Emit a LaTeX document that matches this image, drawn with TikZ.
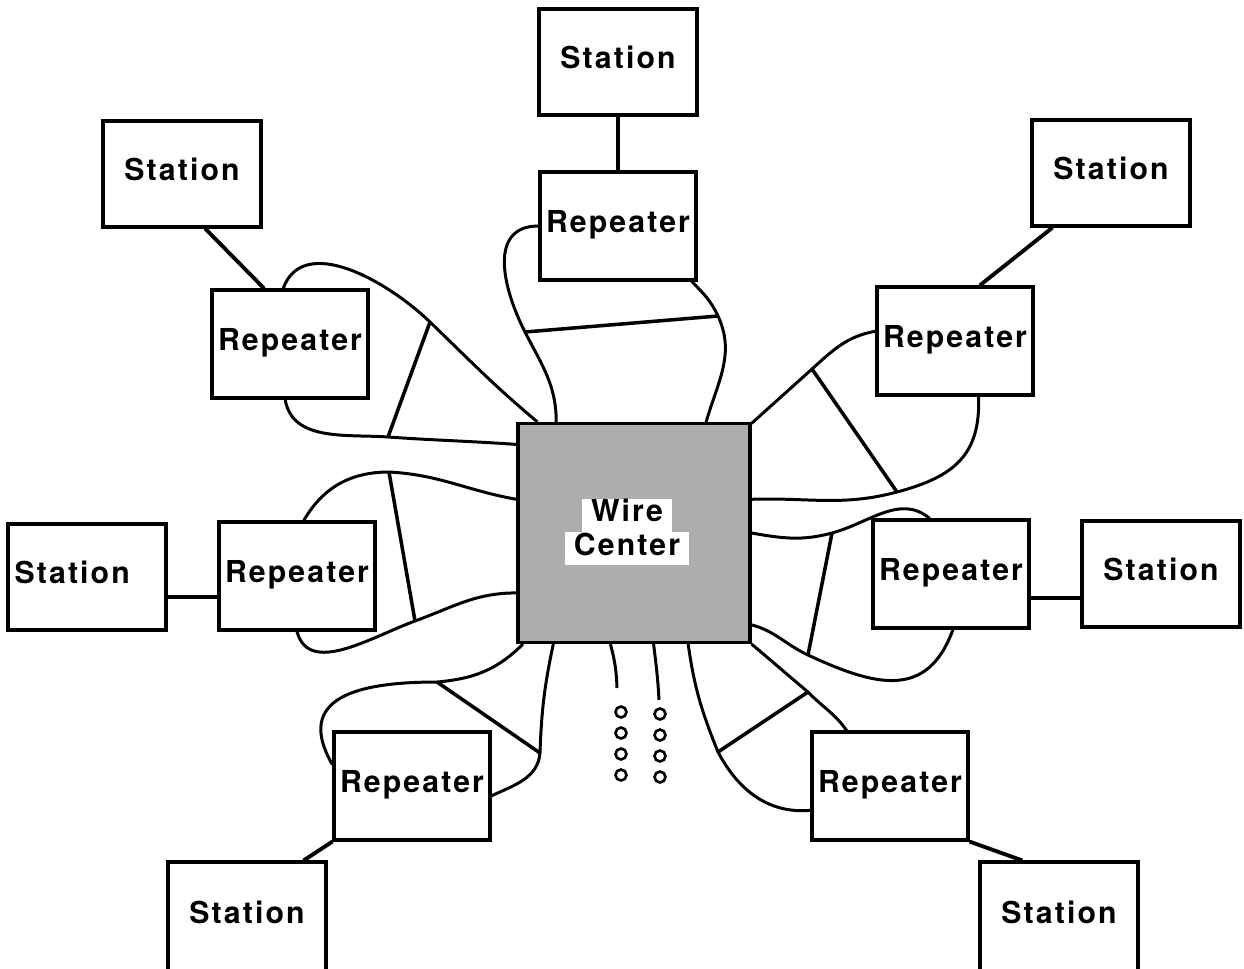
\documentclass[tikz,border=0pt]{standalone}
\usepackage{fontspec}
\newfontfamily\netfont{TeX Gyre Heros}[LetterSpace=7.0]
\usetikzlibrary{positioning,backgrounds}

\begin{document}
\begin{tikzpicture}[x=0.02cm, y=0.02cm,
  station/.style={rectangle, draw=black, fill=white, line width=1.8pt, inner sep=0pt,
                  minimum width=3.16cm, minimum height=2.12cm,
                  text height=7.7pt, text depth=0pt,
                  font=\netfont\bfseries\fontsize{17.2}{19}\selectfont},
  repeater/.style={station, minimum width=3.12cm, minimum height=2.16cm},
  hub/.style={rectangle, draw=black, fill=black!32, line width=1.8pt,
              minimum width=4.64cm, minimum height=4.38cm},
  hublabel/.style={inner sep=0pt, align=center,
                   font=\netfont\bfseries\fontsize{17.2}{19}\selectfont},
  cable/.style={line width=1.7pt},
  bar/.style={line width=2pt},
  link/.style={line width=2.2pt},
  ring/.style={line width=1.5pt},
]
\useasboundingbox (0,0) rectangle (1244,-968);
\setlength{\fboxsep}{0pt}

\node[hub] (wc) at (634,-533) {};
\node[hublabel] (wcl) at (627,-532)
  {\colorbox{white}{\strut\hspace{5pt}Wire\hspace{5pt}}\\
   \colorbox{white}{\strut\hspace{5pt}Center\hspace{5pt}}};

\node[station]  (stn)  at (618,-62)  {Station};
\node[repeater] (rpn)  at (618,-226) {Repeater};
\node[station]  (stnw) at (182,-174) {Station};
\node[repeater] (rpnw) at (290,-344) {Repeater};
\node[station]  (stne) at (1111,-173) {Station};
\node[repeater] (rpne) at (955,-341) {Repeater};
\node[station, text width=2.9cm, align=left] (stw) at (87,-577) {Station};
\node[repeater] (rpw)  at (297,-576) {Repeater};
\node[repeater] (rpe)  at (951,-574) {Repeater};
\node[station]  (ste)  at (1161,-574) {Station};
\node[repeater] (rpsw) at (412,-786) {Repeater};
\node[station, minimum height=2.2cm] (stsw) at (247,-917) {Station};
\node[repeater] (rpse) at (890,-786) {Repeater};
\node[station, minimum height=2.2cm] (stse) at (1059,-917) {Station};

\coordinate (xn1)  at (525,-332);
\coordinate (xn2)  at (718,-316);
\coordinate (xnw1) at (430,-322);
\coordinate (xnw2) at (388,-437);
\coordinate (xne1) at (812,-369);
\coordinate (xne2) at (897,-492);
\coordinate (xw1)  at (389,-472);
\coordinate (xw2)  at (415,-621);
\coordinate (xe1)  at (832,-533);
\coordinate (xe2)  at (808,-655);
\coordinate (xsw1) at (437,-682);
\coordinate (xsw2) at (540,-753);
\coordinate (xse1) at (808,-692);
\coordinate (xse2) at (718,-752);
\coordinate (d1)   at (617,-688);
\coordinate (d2)   at (659,-700);

\begin{scope}[on background layer]
  \draw[cable] (rpn.west) to[out=180,in=117,looseness=1.2] (xn1) to[out=-63,in=90] (wc.125);
  \draw[cable] (rpn.-37) to[out=-45,in=115] (xn2) to[out=-65,in=74] (wc.57);
  \draw[cable] (rpnw.97) to[out=70,in=136] (xnw1) to[out=-44,in=140] (wc.131);
  \draw[cable] (rpnw.-95) to[out=-80,in=176] (xnw2) to[out=-4,in=176] (wc.143);
  \draw[cable] (rpne.173) to[out=190,in=42] (xne1) to[out=222,in=42] (wc.43);
  \draw[cable] (rpne.-67) to[out=-88,in=15,looseness=1.2] (xne2) to[out=195,in=2] (wc.16);
  \draw[cable] (rpw.83) to[out=60,in=180] (xw1) to[out=-3,in=170] (wc.164);
  \draw[cable] (rpw.south) to[out=-75,in=200] (xw2) to[out=20,in=180] (wc.207);
  \draw[cable] (wc.east) to[out=-10,in=195] (xe1) to[out=15,in=140] (rpe.111);
  \draw[cable] (wc.-38) to[out=-15,in=155] (xe2) to[out=-25,in=-110,looseness=1.3] (rpe.-88);
  \draw[cable] (wc.225) to[out=-135,in=5] (xsw1) to[out=180,in=120,looseness=1.5] (rpsw.165);
  \draw[cable] (wc.234) to[out=-102,in=88] (xsw2) to[out=-95,in=25] (rpsw.-7);
  \draw[cable] (wc.-64) to[out=-82,in=112] (xse2) to[out=-62,in=185] (rpse.197);
  \draw[cable] (wc.south east) to[out=-40,in=140] (xse1) to[out=-46,in=125] (rpse.128);
  \draw[cable] (wc.258) to[out=-75,in=92] (d1);
  \draw[cable] (wc.-80) to[out=-83,in=93] (d2);
\end{scope}

\foreach \a/\b in {xn1/xn2,xnw1/xnw2,xne1/xne2,xw1/xw2,xe1/xe2,xsw1/xsw2,xse1/xse2}
  \draw[bar] (\a) -- (\b);

\draw[link] (stn.south) -- (rpn.north);
\draw[link] (stnw.-67) -- (rpnw.115);
\draw[link] (stne.223) -- (rpne.66);
\draw[link] (stw.-14) -- (rpw.west|-stw.-14);
\draw[link] (rpe.-17) -- (ste.west|-rpe.-17);
\draw[link] (rpsw.south west) -- (stsw.45);
\draw[link] (rpse.south east) -- (stse.123);

\foreach \y in {712,733,754,775} {
  \draw[ring] (621,-\y) circle[radius=0.11cm];
  \draw[ring] (660,-\y-2) circle[radius=0.11cm];
}

\end{tikzpicture}
\end{document}
